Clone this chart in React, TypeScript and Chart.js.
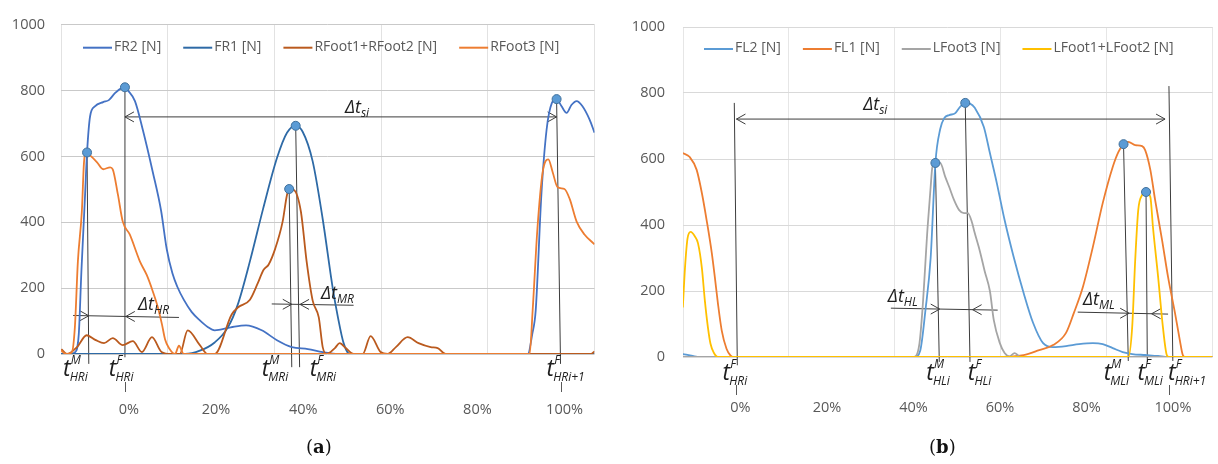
import React, { useEffect, useRef } from "react";
import { Chart, registerables } from "chart.js";

Chart.register(...registerables);

const FONT = '"Open Sans", "DejaVu Sans", sans-serif';
const PCT_TICKS = [0, 20, 40, 60, 80, 100];
const Y_TICK_STEP = 200;
const Y_MAX = 1000;

// ---------------- Panel (a) ----------------
const aLabels = ["FR2 [N]", "FR1 [N]", "RFoot1+RFoot2 [N]", "RFoot3 [N]"];
const aColors = ["#4472C4", "#2E6AA6", "#BA5A1E", "#ED7D31"];

const aFR2X = [-14.7, -12.6, -11.5, -10.6, -10.0, -9.2, -8.7, -8.0, -6.9, -5.0, -3.7, -2.3, -0.7, 0, 0.7, 2.3, 4.1, 6.4, 8.3, 9.6, 10.9, 12.0, 13.5, 15.3, 17.2, 19.0, 20.6, 24.3, 27.8, 31.4, 34.9, 38.3, 42.0, 45.4, 48.9, 92.5, 93.5, 94.3, 95.6, 96.8, 98.0, 99.1, 100.2, 101.4, 102.5, 103.7, 105.0, 106.7, 107.8];
const aFR2Y = [0, 0, 5, 60, 250, 470, 612, 722, 752, 765, 771, 792, 808, 810, 800, 768, 681, 552, 435, 318, 245, 205, 165, 128, 102, 82, 72, 81, 87, 72, 42, 21, 15, 6, 0, 0, 60, 132, 483, 681, 762, 774, 753, 732, 756, 768, 753, 711, 672];

const aFR1X = [-14.7, 13.8, 17.2, 20.6, 23.6, 25.9, 28.7, 31.7, 34.9, 37.2, 39.2, 40.8, 43.1, 45.4, 47.7, 48.9, 50.2, 51.6, 107.8];
const aFR1Y = [0, 0, 10, 35, 80, 150, 282, 440, 595, 672, 693, 675, 585, 410, 200, 111, 33, 0, 0];

const aRF12X = [-14.6, -13.3, -11.0, -8.8, -6.7, -4.8, -2.8, -0.5, 1.8, 3.9, 6.2, 8.4, 10.6, 12.6, 14.4, 17.2, 19.0, 20.6, 24.5, 26.0, 28.7, 30.5, 31.8, 33.0, 34.5, 36.2, 37.2, 37.7, 38.8, 40.4, 41.7, 43.1, 44.5, 45.4, 46.3, 48.2, 49.3, 50.7, 52.5, 54.6, 56.4, 58.7, 60.3, 62.2, 64.9, 67.4, 70.2, 71.8, 73.6, 107.0, 107.8];
const aRF12Y = [15, 0, 21, 57, 42, 33, 48, 27, 39, 6, 51, 6, 0, 0, 72, 27, 0, 0, 120, 142, 165, 215, 255, 272, 320, 402, 483, 501, 498, 432, 282, 162, 111, 21, 0, 18, 33, 18, 0, 0, 54, 6, 0, 21, 51, 33, 21, 18, 0, 0, 8];

const aRF3X = [-14.7, -14.0, -13.3, -12.2, -11.5, -10.8, -9.9, -9.4, -8.9, -8.0, -6.4, -5.0, -3.4, -2.8, -1.6, -0.5, 1.1, 2.8, 3.4, 5.0, 6.4, 7.6, 8.5, 9.2, 10.1, 11.5, 12.4, 13.5, 92.9, 93.6, 94.7, 95.9, 97.2, 98.2, 99.3, 100.9, 102.1, 103.7, 105.5, 107.8];
const aRF3Y = [12, 3, 0, 5, 80, 282, 432, 582, 612, 603, 582, 561, 567, 561, 483, 402, 363, 303, 282, 240, 190, 140, 90, 45, 18, 0, 25, 0, 0, 132, 381, 552, 591, 552, 507, 501, 471, 402, 363, 333];

const aMarkX = [-8.7, 0, 37.7, 39.2, 99.1];
const aMarkY = [612, 810, 501, 693, 774];

// event lines (top point -> below the axis)
const aEventTopX = [-8.7, 0, 37.7, 39.2, 99.1];
const aEventTopY = [612, 810, 501, 693, 774];
const aEventBotX = [-8.3, 0, 38.3, 40.1, 100];
const aEventBotY = [-30, -10, -40, -40, -30];

const aTLabelX = [-14.2, -3.7, 31.4, 42.4, 96.8];
const aTLabelSup = ["M", "F", "M", "F", "F"];
const aTLabelSub = ["HRi", "HRi", "MRi", "MRi", "HRi+1"];

const aDeltaX = [50.5, 3.0, 45.0];
const aDeltaY = [732, 135, 168];
const aDeltaSub = ["si", "HR", "MR"];

const aArrows = [
  { x1: 0, y1: 720, x2: 99.1, y2: 720, heads: [{ x: 0, d: -1 }, { x: 99.1, d: 1 }] },
  { x1: -11.9, y1: 117, x2: 12.4, y2: 111, heads: [{ x: -8.3, d: 1 }, { x: 0.2, d: -1 }] },
  { x1: 33.7, y1: 152, x2: 52.5, y2: 148, heads: [{ x: 38.3, d: 1 }, { x: 40.2, d: -1 }] },
];

// ---------------- Panel (b) ----------------
const bLabels = ["FL2 [N]", "FL1 [N]", "LFoot3 [N]", "LFoot1+LFoot2 [N]"];
const bColors = ["#5B9BD5", "#ED7D31", "#A5A5A5", "#FFC000"];

const bFL2X = [-12.4, -10.1, -8.5, 41.2, 42.5, 43.7, 44.9, 46.0, 47.1, 48.1, 49.2, 50.6, 51.7, 52.9, 54.0, 55.1, 57.2, 58.6, 60.2, 62.0, 64.1, 66.4, 68.6, 70.9, 73.2, 76.2, 79.2, 82.4, 84.7, 87.0, 89.3, 91.5, 94.5, 97.5, 99.8, 110.1];
const bFL2Y = [9, 3, 0, 0, 20, 142, 300, 588, 690, 725, 733, 739, 758, 770, 768, 755, 697, 618, 527, 415, 303, 194, 103, 42, 30, 33, 39, 42, 39, 27, 15, 9, 6, 3, 0, 0];

const bFL1X = [-12.4, -10.8, -9.2, -8.0, -6.9, -5.7, -5.0, -4.3, -3.4, -2.3, -1.4, -0.8, 59.5, 66.4, 70.0, 73.2, 76.2, 78.0, 80.1, 82.4, 84.7, 87.0, 88.3, 89.5, 90.6, 92.2, 93.8, 94.5, 95.7, 96.8, 98.4, 99.8, 101.4, 102.5, 103.2, 103.7, 110.1];
const bFL1Y = [618, 606, 567, 497, 415, 315, 242, 164, 80, 25, 5, 0, 0, 6, 21, 36, 73, 133, 212, 333, 467, 576, 621, 645, 652, 642, 639, 627, 567, 476, 355, 242, 133, 52, 6, 0, 0];

const bLF3X = [-12.4, 41.0, 42.3, 43.0, 44.2, 44.9, 45.3, 46.0, 47.1, 48.3, 49.2, 50.3, 51.5, 52.6, 53.5, 54.5, 55.0, 56.3, 57.4, 58.6, 59.5, 60.9, 62.0, 63.2, 64.3, 65.4, 66.4, 110.1];
const bLF3Y = [0, 0, 40, 142, 394, 515, 576, 588, 588, 545, 515, 476, 445, 436, 436, 406, 380, 320, 260, 200, 112, 42, 12, 2, 12, 2, 0, 0];

const bLF12X = [-12.4, -11.9, -11.3, -10.6, -9.6, -8.9, -8.0, -7.3, -6.6, -6.0, -5.2, -4.3, 90.6, 91.5, 92.2, 92.9, 93.8, 94.7, 95.7, 96.3, 97.5, 98.6, 99.5, 100.0, 110.1];
const bLF12Y = [150, 270, 360, 379, 365, 345, 270, 170, 90, 40, 12, 0, 0, 91, 294, 445, 491, 500, 485, 394, 242, 91, 6, 0, 0];

const bMarkX = [46.0, 52.9, 89.5, 94.7];
const bMarkY = [588, 770, 645, 500];

const bEventTopX = [-0.5, 46.0, 52.9, 89.5, 94.7, 100];
const bEventTopY = [770, 588, 770, 645, 500, 821];
const bEventBotX = [0.2, 46.9, 54.0, 90.6, 95.0, 100.9];
const bEventBotY = [-25, -15, -15, -12, -15, -12];

const bTLabelX = [-3.2, 43.9, 53.5, 84.9, 92.7, 99.8];
const bTLabelSup = ["F", "M", "F", "M", "F", "F"];
const bTLabelSub = ["HRi", "HLi", "HLi", "MLi", "MLi", "HRi+1"];

const bDeltaX = [29.3, 35.0, 80.1];
const bDeltaY = [748, 167, 158];
const bDeltaSub = ["si", "HL", "ML"];

const bArrows = [
  { x1: 0, y1: 721, x2: 99.1, y2: 721, heads: [{ x: 0, d: -1 }, { x: 99.1, d: 1 }] },
  { x1: 35.7, y1: 148, x2: 60.4, y2: 142, heads: [{ x: 47.0, d: 1 }, { x: 54.6, d: -1 }] },
  { x1: 78.9, y1: 136, x2: 99.8, y2: 130, heads: [{ x: 90.8, d: 1 }, { x: 96.0, d: -1 }] },
];

// ---------------- configs ----------------
const panelA = {
  left: 0, width: 600, height: 464,
  padTop: 21, padRight: 5, yWidth: 61, xHeight: 110, yPad: 16,
  xMin: -14.68, xMax: 107.8,
  hGrid: "#C9C9C9", vGrid: "#E2E2E2",
  series: [
    { label: aLabels[0], color: aColors[0], xs: aFR2X, ys: aFR2Y },
    { label: aLabels[1], color: aColors[1], xs: aFR1X, ys: aFR1Y },
    { label: aLabels[2], color: aColors[2], xs: aRF12X, ys: aRF12Y },
    { label: aLabels[3], color: aColors[3], xs: aRF3X, ys: aRF3Y },
  ],
  markX: aMarkX, markY: aMarkY,
  evTopX: aEventTopX, evTopY: aEventTopY, evBotX: aEventBotX, evBotY: aEventBotY,
  tX: aTLabelX, tSup: aTLabelSup, tSub: aTLabelSub,
  dX: aDeltaX, dY: aDeltaY, dSub: aDeltaSub,
  arrows: aArrows,
  tBase: 22, pctOffset: 56, legendDX: 22, legendDY: 22,
};

const panelB = {
  left: 600, width: 618, height: 464,
  padTop: 27, padRight: 0, yWidth: 83, xHeight: 107, yPad: 18,
  xMin: -12.36, xMax: 110.07,
  hGrid: "#D9D9D9", vGrid: "#E6E6E6",
  series: [
    { label: bLabels[0], color: bColors[0], xs: bFL2X, ys: bFL2Y },
    { label: bLabels[1], color: bColors[1], xs: bFL1X, ys: bFL1Y },
    { label: bLabels[2], color: bColors[2], xs: bLF3X, ys: bLF3Y },
    { label: bLabels[3], color: bColors[3], xs: bLF12X, ys: bLF12Y },
  ],
  markX: bMarkX, markY: bMarkY,
  evTopX: bEventTopX, evTopY: bEventTopY, evBotX: bEventBotX, evBotY: bEventBotY,
  tX: bTLabelX, tSup: bTLabelSup, tSub: bTLabelSub,
  dX: bDeltaX, dY: bDeltaY, dSub: bDeltaSub,
  arrows: bArrows,
  tBase: 23, pctOffset: 51, legendDX: 21, legendDY: 21,
};

function makeAnnot(cfg: any) {
  return {
    id: "annot",
    beforeDatasetsDraw(chart: any) {
      const { ctx } = chart;
      const xs = chart.scales.x;
      const ys = chart.scales.y;
      const px = (v: number) => xs.getPixelForValue(v);
      const py = (v: number) => ys.getPixelForValue(v);
      ctx.save();
      ctx.strokeStyle = "#3C3C3C";
      ctx.lineWidth = 1;
      ctx.beginPath();
      cfg.evTopX.forEach((x: number, i: number) => {
        ctx.moveTo(px(x), py(cfg.evTopY[i]));
        ctx.lineTo(px(cfg.evBotX[i]), py(cfg.evBotY[i]));
      });
      for (const a of cfg.arrows) {
        const X1 = px(a.x1), Y1 = py(a.y1), X2 = px(a.x2), Y2 = py(a.y2);
        ctx.moveTo(X1, Y1);
        ctx.lineTo(X2, Y2);
        for (const h of a.heads) {
          const tx = px(h.x);
          const ty = Y1 + ((Y2 - Y1) * (tx - X1)) / (X2 - X1);
          ctx.moveTo(tx - h.d * 9, ty - 5);
          ctx.lineTo(tx, ty);
          ctx.lineTo(tx - h.d * 9, ty + 5);
        }
      }
      ctx.stroke();
      ctx.restore();
    },
    afterDraw(chart: any) {
      const { ctx, chartArea } = chart;
      const xs = chart.scales.x;
      const ys = chart.scales.y;
      const px = (v: number) => xs.getPixelForValue(v);
      const py = (v: number) => ys.getPixelForValue(v);
      ctx.save();

      // legend
      let lx = chartArea.left + cfg.legendDX;
      const ly = chartArea.top + cfg.legendDY;
      ctx.font = `14px ${FONT}`;
      ctx.textBaseline = "middle";
      ctx.textAlign = "left";
      for (const s of cfg.series) {
        ctx.strokeStyle = s.color;
        ctx.lineWidth = 2;
        ctx.beginPath();
        ctx.moveTo(lx, ly + 1);
        ctx.lineTo(lx + 29, ly + 1);
        ctx.stroke();
        ctx.fillStyle = "#595959";
        ctx.fillText(s.label, lx + 31, ly);
        lx += 31 + ctx.measureText(s.label).width + 22;
      }

      // percent labels
      const bottom = chartArea.bottom;
      ctx.font = `14.5px ${FONT}`;
      ctx.fillStyle = "#595959";
      ctx.textAlign = "center";
      ctx.textBaseline = "middle";
      for (const v of PCT_TICKS) ctx.fillText(`${v}%`, px(v) + 4, bottom + cfg.pctOffset);
      ctx.strokeStyle = "#595959";
      ctx.lineWidth = 1;
      ctx.beginPath();
      for (const v of [PCT_TICKS[0], PCT_TICKS[PCT_TICKS.length - 1]]) {
        const x = Math.round(px(v)) + 0.5;
        ctx.moveTo(x, bottom + 28);
        ctx.lineTo(x, bottom + 38);
      }
      ctx.stroke();

      // t labels
      ctx.fillStyle = "#1E1E1E";
      ctx.textAlign = "left";
      ctx.textBaseline = "alphabetic";
      const base = bottom + cfg.tBase;
      cfg.tX.forEach((x: number, i: number) => {
        const x0 = px(x);
        ctx.font = `italic 23px ${FONT}`;
        ctx.fillText("t", x0, base);
        const w = ctx.measureText("t").width;
        ctx.font = `italic 12px ${FONT}`;
        ctx.fillText(cfg.tSup[i], x0 + w, base - 12);
        ctx.font = `italic 12px ${FONT}`;
        ctx.fillText(cfg.tSub[i], x0 + w - 1, base + 5);
      });

      // delta labels
      cfg.dX.forEach((x: number, i: number) => {
        const x0 = px(x);
        const y0 = py(cfg.dY[i]);
        ctx.font = `italic 18px ${FONT}`;
        ctx.fillText("\u0394t", x0, y0);
        const w = ctx.measureText("\u0394t").width;
        ctx.font = `italic 12px ${FONT}`;
        ctx.fillText(cfg.dSub[i], x0 + w, y0 + 4);
      });
      ctx.restore();
    },
  };
}

function Panel({ cfg }: { cfg: any }) {
  const ref = useRef<HTMLCanvasElement>(null);
  useEffect(() => {
    const canvas = ref.current;
    if (!canvas) return;
    const n = cfg.series.length;
    const datasets: any[] = cfg.series.map((s: any, i: number) => ({
      label: s.label,
      data: s.xs.map((x: number, j: number) => ({ x, y: s.ys[j] })),
      borderColor: s.color,
      backgroundColor: s.color,
      borderWidth: 1.8,
      pointRadius: 0,
      fill: false,
      cubicInterpolationMode: "monotone",
      order: n - i,
    }));
    datasets.push({
      label: "markers",
      data: cfg.markX.map((x: number, j: number) => ({ x, y: cfg.markY[j] })),
      showLine: false,
      pointRadius: 4.5,
      pointBackgroundColor: "#5B9BD5",
      pointBorderColor: "#41719C",
      pointBorderWidth: 1,
      order: 0,
    });
    const gridVals = Array.from({ length: 6 }, (_, i) => cfg.xMin + (i * (cfg.xMax - cfg.xMin)) / 5);
    const chart = new Chart(canvas, {
      type: "line",
      data: { datasets },
      options: {
        animation: false,
        responsive: false,
        maintainAspectRatio: false,
        devicePixelRatio: 1,
        events: [],
        layout: { padding: { top: cfg.padTop, right: cfg.padRight, left: 0, bottom: 0 } },
        plugins: { legend: { display: false }, tooltip: { enabled: false } },
        scales: {
          x: {
            type: "linear",
            min: cfg.xMin,
            max: cfg.xMax,
            afterBuildTicks: (s: any) => {
              s.ticks = gridVals.map((v) => ({ value: v }));
            },
            ticks: { display: false },
            grid: { color: cfg.vGrid, drawTicks: false, lineWidth: 1 },
            border: { display: false },
            afterFit: (s: any) => {
              s.height = cfg.xHeight;
            },
          },
          y: {
            min: 0,
            max: Y_MAX,
            ticks: {
              stepSize: Y_TICK_STEP,
              color: "#595959",
              font: { family: FONT, size: 14.5 },
              padding: cfg.yPad,
              callback: (v: any) => String(v),
            },
            grid: { color: cfg.hGrid, drawTicks: false, lineWidth: 1 },
            border: { display: false },
            afterFit: (s: any) => {
              s.width = cfg.yWidth;
            },
          },
        },
      } as any,
      plugins: [makeAnnot(cfg)],
    });
    return () => chart.destroy();
  }, [cfg]);
  return (
    <canvas
      ref={ref}
      width={cfg.width}
      height={cfg.height}
      style={{ position: "absolute", left: cfg.left, top: 0, width: cfg.width, height: cfg.height }}
    />
  );
}

export default function App() {
  const capStyle: any = {
    position: "absolute",
    top: 436,
    fontFamily: '"DejaVu Serif", "Liberation Serif", serif',
    fontSize: 18,
    color: "#111",
  };
  return (
    <div style={{ position: "absolute", left: 0, top: 0, width: 1218, height: 464, background: "#fff", overflow: "hidden" }}>
      <Panel cfg={panelA} />
      <Panel cfg={panelB} />
      <div style={{ ...capStyle, left: 306 }}>
        (<b>a</b>)
      </div>
      <div style={{ ...capStyle, left: 929 }}>
        (<b>b</b>)
      </div>
    </div>
  );
}
